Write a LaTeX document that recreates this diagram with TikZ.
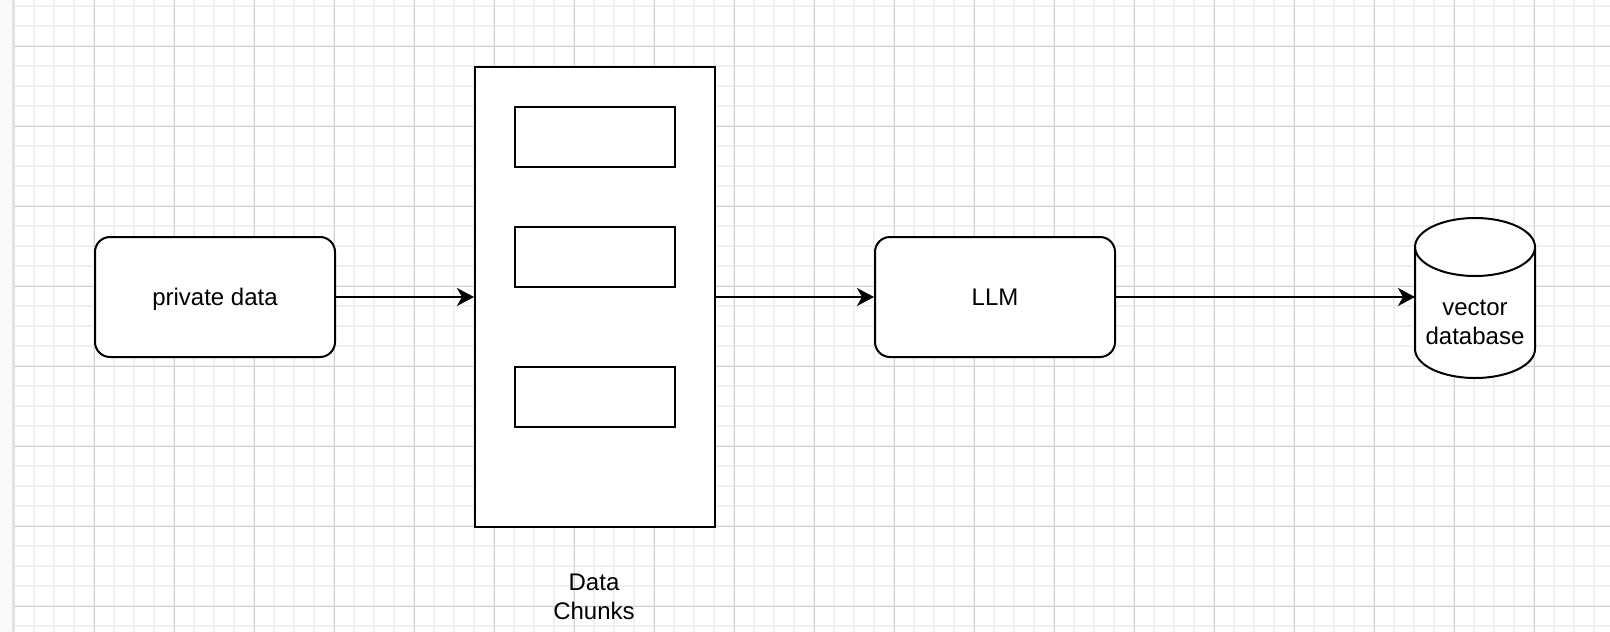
\documentclass[tikz,border=0pt]{standalone}
\usepackage{fontspec}
\setmainfont{Liberation Sans}
\usetikzlibrary{arrows.meta,shapes.geometric}
\definecolor{minorgrid}{HTML}{EFEFEF}
\definecolor{majorgrid}{HTML}{D2D2D2}
\definecolor{stripbg}{HTML}{FAFAFA}
\definecolor{stripedge}{HTML}{E2E2E2}
\tikzset{
  box/.style={draw=black,line width=2pt,fill=white,rounded corners=15pt,minimum width=240pt,minimum height=120pt,inner sep=0pt,text depth=0pt,font=\fontsize{24}{29}\selectfont},
  chunk/.style={draw=black,line width=2pt,fill=white,inner sep=0pt},
  lbl/.style={align=center,inner sep=0pt,font=\fontsize{24}{29}\selectfont},
  flow/.style={line width=2pt,-{Stealth[length=17pt,width=18pt,inset=5pt]}},
}
\begin{document}
\begin{tikzpicture}[x=1pt,y=-1pt]
\useasboundingbox (0,0) rectangle (1610,632);
\fill[white] (0,0) rectangle (1610,632);
% grid
\foreach \x in {14,34,...,1610} \draw[minorgrid,line width=1.3pt] (\x,0) -- (\x,632);
\foreach \y in {6,26,...,632} \draw[minorgrid,line width=1.3pt] (14,\y) -- (1610,\y);
\foreach \x in {94,174,...,1610} \draw[majorgrid,line width=0.8pt] (\x,0) -- (\x,632);
\foreach \y in {46,126,...,632} \draw[majorgrid,line width=0.8pt] (14,\y) -- (1610,\y);
% left strip
\fill[stripbg] (0,0) rectangle (13,632);
\fill[stripedge] (12,0) rectangle (14.5,632);
% nodes
\node[box] (priv) at (215,297) {private data};
\node[chunk,minimum width=240pt,minimum height=460pt] (chunks) at (595,297) {};
\node[chunk,minimum width=160pt,minimum height=60pt] (c1) at (595,137) {};
\node[chunk,minimum width=160pt,minimum height=60pt] (c2) at (595,257) {};
\node[chunk,minimum width=160pt,minimum height=60pt] (c3) at (595,397) {};
\node[lbl] (chunkslbl) at (594,597) {Data\\Chunks};
\node[box] (llm) at (995,297) {LLM};
% cylinder
\fill[white] (1415,247) -- (1415,349) arc[start angle=180,end angle=360,x radius=60pt,y radius=29pt] -- (1535,247) arc[start angle=0,end angle=180,x radius=60pt,y radius=29pt] -- cycle;
\draw[line width=2pt] (1415,247) -- (1415,349) arc[start angle=180,end angle=360,x radius=60pt,y radius=29pt] -- (1535,247);
\draw[line width=2pt] (1475,247) ellipse[x radius=60pt,y radius=29pt];
\node[lbl] (vdb) at (1475,322) {vector\\database};
\coordinate (vdbin) at (1415,297);
% connectors
\draw[flow] (priv.east) -- (chunks.west |- priv.east);
\draw[flow] (chunks.east |- llm.west) -- (llm.west);
\draw[flow] (llm.east) -- (vdbin);
\end{tikzpicture}
\end{document}
